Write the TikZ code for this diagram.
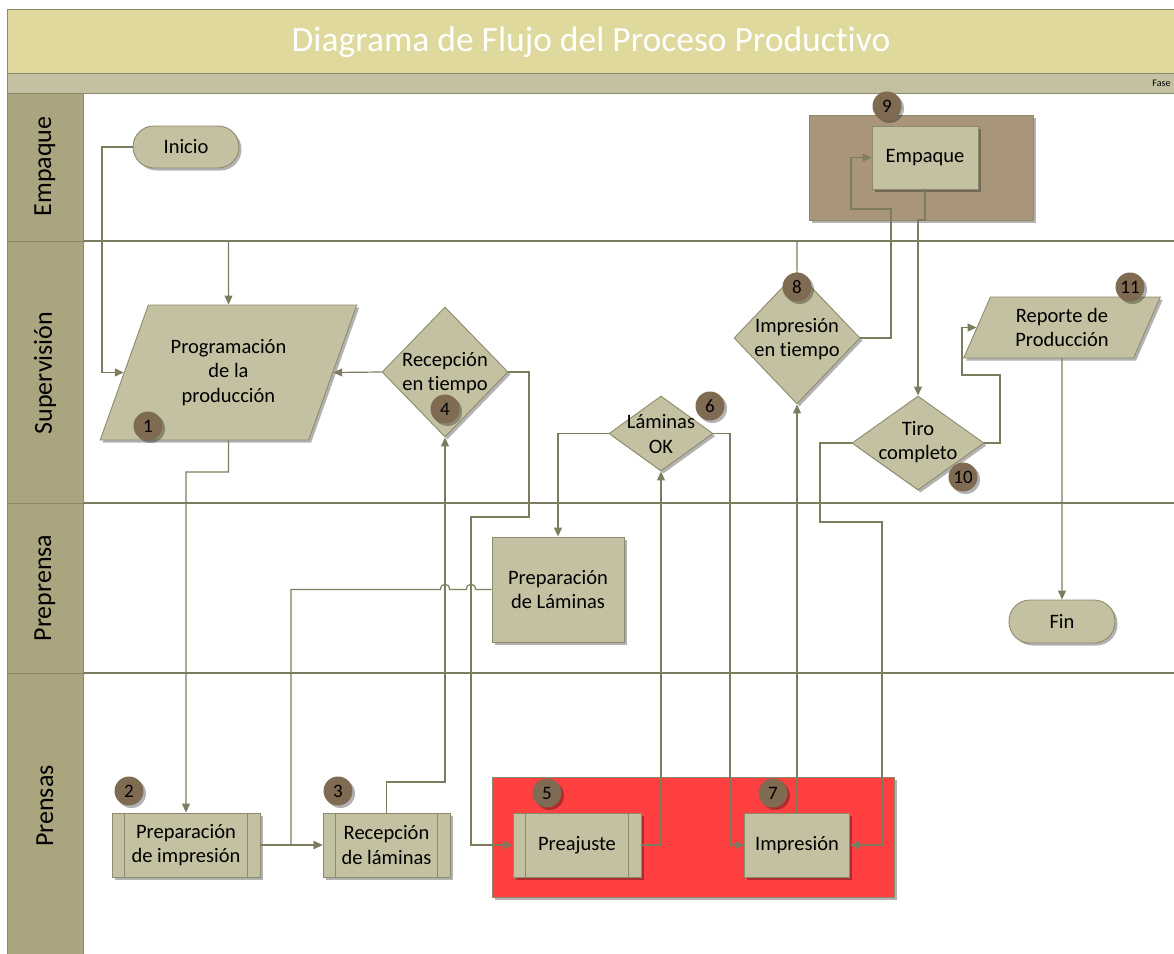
\documentclass[tikz,border=0pt]{standalone}
\usepackage{fontspec}
\setmainfont{Carlito}[Ligatures=NoCommon]
\usetikzlibrary{arrows.meta,shapes.geometric,shadows}

\definecolor{titlefill}{HTML}{DFD99D}
\definecolor{fasefill}{HTML}{C3C1A2}
\definecolor{lanehead}{HTML}{ABA57F}
\definecolor{outline}{HTML}{8C8A6C}
\definecolor{linec}{HTML}{7E7C5E}
\definecolor{nodefill}{HTML}{C3C1A1}
\definecolor{nodedraw}{HTML}{8D8B6D}
\definecolor{numfill}{HTML}{7F6A52}
\definecolor{packfill}{HTML}{A8957A}
\definecolor{pressfill}{HTML}{FF4041}

\begin{document}
\begin{tikzpicture}[x=1pt,y=-1pt,
  every node/.style={font=\fontsize{20.5}{24.5}\selectfont, text=black},
  softshadow/.style={drop shadow={shadow xshift=2.5pt,shadow yshift=-2.5pt,opacity=0.3,fill=black}},
  nodebox/.style={draw=nodedraw, fill=nodefill, line width=0.9pt, softshadow, align=center, inner sep=1pt},
  procbox/.style={nodebox, rectangle},
  subbox/.style={nodebox, rectangle, path picture={
      \draw[nodedraw, line width=0.9pt]
        ([xshift=12.5pt]path picture bounding box.north west) -- ([xshift=12.5pt]path picture bounding box.south west)
        ([xshift=-12.5pt]path picture bounding box.north east) -- ([xshift=-12.5pt]path picture bounding box.south east);}},
  termbox/.style={nodebox, rectangle, rounded corners=21pt},
  decbox/.style={nodebox, diamond},
  iobox/.style={nodebox, trapezium, trapezium stretches=true, inner sep=2pt},
  boxtext/.style={align=center, inner sep=0pt},
  zone/.style={draw=outline, line width=0.9pt, softshadow, inner sep=0pt, anchor=north west},
  numc/.style={circle, fill=numfill, minimum size=29pt, inner sep=0pt, softshadow,
               font=\fontsize{19}{19}\selectfont},
  lanelbl/.style={rotate=90, font=\fontsize{26}{26}\selectfont},
  lanerule/.style={draw=linec, line width=1.2pt},
  conn/.style={draw=linec, line width=1.2pt, -{Triangle[length=9pt,width=8pt]}},
]
\useasboundingbox (0,0) rectangle (1174,953);

% --- pool header and phase band ---
\path[fill=titlefill, draw=outline, line width=1pt] (7,9) rectangle (1190,73);
\node[text=white, font=\fontsize{35.5}{35.5}\selectfont] (title) at (591,42) {Diagrama de Flujo del Proceso Productivo};
\path[fill=fasefill, draw=outline, line width=1pt] (7,73) rectangle (1190,93);
\node[anchor=east, font=\fontsize{10}{10}\selectfont] (fase) at (1174,83) {Fase};

% --- lane headers ---
\path[fill=lanehead, draw=outline, line width=1pt] (7,93) rectangle (83,241);
\path[fill=lanehead, draw=outline, line width=1pt] (7,241) rectangle (83,503);
\path[fill=lanehead, draw=outline, line width=1pt] (7,503) rectangle (83,673);
\path[fill=lanehead, draw=outline, line width=1pt] (7,673) rectangle (83,960);
\node[lanelbl] (lEmp) at (45,166.5) {Empaque};
\node[lanelbl] (lSup) at (45,373) {Supervisión};
\node[lanelbl] (lPre) at (45,588) {Preprensa};
\node[lanelbl] (lPrn) at (45,806) {Prensas};

% --- lane separators ---
\draw[lanerule] (83,241) -- (1174,241);
\draw[lanerule] (83,503) -- (1174,503);
\draw[lanerule] (83,673) -- (1174,673);

% --- grouping zones ---
\node[zone, fill=packfill, minimum width=224pt, minimum height=105pt] (packzone) at (809,115) {};
\node[zone, fill=pressfill, minimum width=402pt, minimum height=120pt] (presszone) at (492,777) {};

% --- flow nodes ---
\node[termbox, minimum width=106pt, minimum height=42pt] (ini) at (186,147) {Inicio};
\node[procbox, minimum width=106pt, minimum height=63pt] (emp) at (925,157.5) {Empaque};

\node[iobox, trapezium left angle=63, trapezium right angle=117,
      minimum width=257pt, minimum height=135pt] (prog) at (228.5,372.5) {Programación\\de la\\producción};

\node[decbox, minimum width=126pt, minimum height=130pt] (rec) at (445,372) {};
\node[boxtext] (rect) at (445,373) {Recepción\\en tiempo};

\node[decbox, minimum width=104pt, minimum height=75pt] (lam) at (661,433.5) {};
\node[boxtext] (lamt) at (661,434) {Láminas\\OK};

\node[decbox, minimum width=126pt, minimum height=132pt] (impt) at (797,338) {};
\node[boxtext] (imptt) at (797,339) {Impresión\\en tiempo};

\node[decbox, minimum width=132pt, minimum height=94pt] (tiro) at (918,443) {};
\node[boxtext] (tirot) at (918,442) {Tiro\\completo};

\node[iobox, trapezium left angle=67, trapezium right angle=113,
      minimum width=197pt, minimum height=61pt] (rep) at (1062,327.5) {Reporte de\\Producción};

\node[procbox, minimum width=132pt, minimum height=105pt] (plam) at (558,589.5) {Preparación\\de Láminas};
\node[termbox, minimum width=106pt, minimum height=43pt] (fin) at (1062,621.5) {Fin};

\node[subbox, minimum width=148pt, minimum height=64pt] (pimp) at (186,845) {Preparación\\de impresión};
\node[subbox, minimum width=127pt, minimum height=64pt] (rlam) at (386.5,845) {Recepción\\de láminas};
\node[subbox, minimum width=128pt, minimum height=64pt] (preaj) at (577,845) {Preajuste};
\node[procbox, minimum width=105pt, minimum height=64pt] (impr) at (797,845) {Impresión};

% --- connectors ---
\draw[conn] (ini.west) -| (102,372.5) -- (prog.left side);
\draw[conn] (impt.north) |- (228.5,241) -- (prog.north);
\draw[conn] (prog.south) -- (228.5,472) -| (pimp.north);
\draw[conn] (pimp.east) -- (rlam.west);
\draw[conn] (plam.west) -- (475.5,589.5)
      .. controls (475.5,582.5) and (466.5,582.5) .. (466.5,589.5)
      -- (449.5,589.5)
      .. controls (449.5,582.5) and (440.5,582.5) .. (440.5,589.5)
      -- (291,589.5) |- (rlam.west);
\draw[conn] (rlam.north) -- (386.5,782) -| (rec.south);
\draw[conn] (rec.west) -- (prog.right side);
\draw[conn] (rec.east) -- (529,372) -- (529,517) -- (471,517) |- (preaj.west);
\draw[conn] (preaj.east) -| (lam.south);
\draw[conn] (lam.west) -| (plam.north);
\draw[conn] (lam.east) -- (730,433.5) |- (impr.west);
\draw[conn] (impr.north) -- (impt.south);
\draw[conn] (impt.east) -- (891,338) |- (851,209) |- (emp.west);
\draw[conn] (emp.south) -- (925,220) -| (tiro.north);
\draw[conn] (tiro.east) -- (1000,443) |- (962,375) |- (rep.left side);
\draw[conn] (tiro.west) -- (820,443) |- (882,522) |- (impr.east);
\draw[conn] (rep.south) -- (fin.north);

% --- step numbers ---
\node[numc] (n1) at (148,426) {1};
\node[numc] (n2) at (129,791) {2};
\node[numc] (n3) at (338,791) {3};
\node[numc] (n4) at (445,409) {4};
\node[numc] (n5) at (547,793) {5};
\node[numc] (n6) at (710,406) {6};
\node[numc] (n7) at (773,793) {7};
\node[numc] (n8) at (797,287) {8};
\node[numc] (n9) at (887,106) {9};
\node[numc] (n10) at (963,477) {10};
\node[numc] (n11) at (1130,287) {11};
\end{tikzpicture}
\end{document}
